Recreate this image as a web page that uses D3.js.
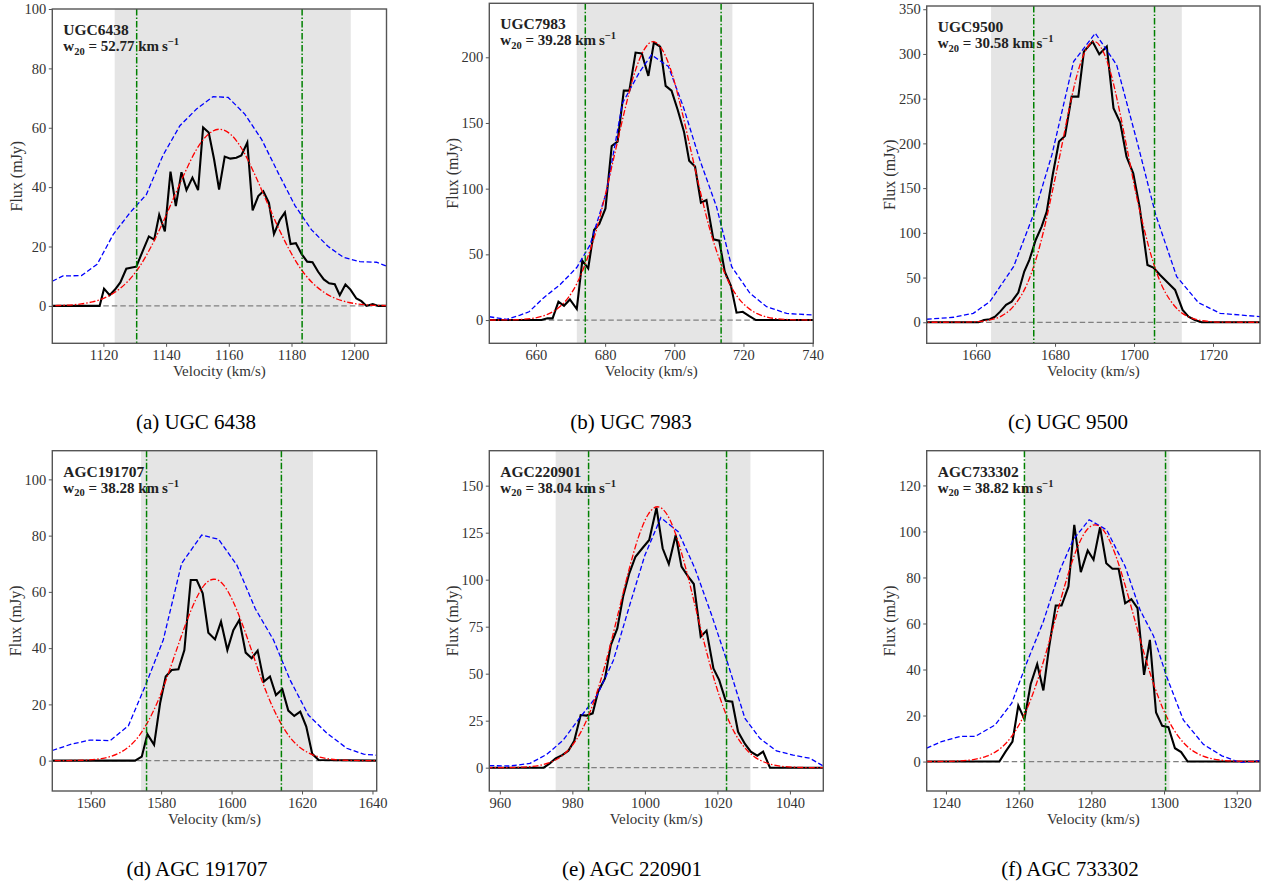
<!DOCTYPE html>
<html>
<head>
<meta charset="utf-8">
<script src="https://cdn.jsdelivr.net/npm/d3@7"></script>
<style>
  html, body { margin: 0; padding: 0; background: #ffffff; }
  svg { display: block; }
</style>
</head>
<body>
<script>
// ---------------------------------------------------------------
// HI line profiles of six dwarf galaxies.
// Each panel: observed spectrum (black), a lower-resolution
// spectrum (blue dashed), a Gaussian fit (red dash-dot), the
// W20 width limits (green dash-dot) and the masked window (grey).
// Spectra are [velocity (km/s), flux (mJy)] pairs.
// ---------------------------------------------------------------

const galaxyNames = ["UGC6438", "UGC7983", "UGC9500", "AGC191707", "AGC220901", "AGC733302"];
const captions = ["(a) UGC 6438", "(b) UGC 7983", "(c) UGC 9500", "(d) AGC 191707", "(e) AGC 220901", "(f) AGC 733302"];

// W20 line widths (km/s) and centre of the Gaussian fit (km/s)
const w20Values = [52.77, 39.28, 30.58, 38.28, 38.04, 38.82];
const fitCentres = [1157.0, 693.9, 1689.9, 1595.0, 1003.5, 1281.0];

// velocity window shaded in grey [min, max]
const windows = [[1123.6, 1198.9], [671.8, 716.8], [1663.8, 1712.1], [1574.3, 1623.1], [975.4, 1029.1], [1261.7, 1301.5]];

// axis limits
const xLimits = [[1103.7, 1210.3], [646.5, 740.2], [1647.5, 1731.9], [1549.1, 1641.2], [957.1, 1049.2], [1234.7, 1326.4]];
const yLimits = [[-12.6, 100.0], [-17.7, 241.1], [-23.5, 353.6], [-10.8, 110.2], [-12.4, 168.6], [-12.8, 135.1]];

// tick values
const xTickValues = [
  [1120, 1140, 1160, 1180, 1200],
  [660, 680, 700, 720, 740],
  [1660, 1680, 1700, 1720],
  [1560, 1580, 1600, 1620, 1640],
  [960, 980, 1000, 1020, 1040],
  [1240, 1260, 1280, 1300, 1320]
];
const yTickValues = [
  [0, 20, 40, 60, 80, 100],
  [0, 50, 100, 150, 200],
  [0, 50, 100, 150, 200, 250, 300, 350],
  [0, 20, 40, 60, 80, 100],
  [0, 25, 50, 75, 100, 125, 150],
  [0, 20, 40, 60, 80, 100, 120]
];

// ---- observed spectra (black) ----
const spectrumUGC6438 = [[1103.7,0],[1118.8,0],[1120.2,5.8],[1122.0,3.6],[1123.7,5.5],[1125.4,7.9],[1127.3,12.5],[1129.1,12.9],[1130.5,13.2],[1132.7,18.9],[1134.5,23.4],[1136.2,22.3],[1137.8,30.7],[1139.6,25.1],[1141.4,45.2],[1143.1,33.6],[1144.9,45.0],[1146.5,39.0],[1148.4,43.2],[1150.2,39.0],[1151.8,60.1],[1153.6,58.4],[1155.3,49.4],[1156.9,39.2],[1158.7,50.3],[1160.5,49.6],[1162.4,49.9],[1164.0,50.7],[1165.9,55.0],[1167.6,32.2],[1169.4,37.0],[1171.0,38.6],[1172.8,34.7],[1174.4,24.2],[1176.3,29.0],[1177.9,31.5],[1179.7,20.8],[1181.4,21.1],[1183.2,17.5],[1185.0,14.9],[1186.7,14.7],[1188.5,11.5],[1190.3,8.9],[1192.0,7.6],[1193.8,7.3],[1195.4,3.6],[1197.2,7.2],[1198.8,5.5],[1200.7,2.5],[1202.3,1.6],[1203.9,0],[1205.9,0.6],[1207.7,0],[1210.3,0]];
const spectrumUGC7983 = [[646.5,0],[661.6,0],[663.3,1.3],[664.8,1.3],[666.5,14.0],[668.1,10.9],[669.8,15.7],[671.8,8.4],[673.4,45.2],[675.1,39.3],[676.8,68.5],[678.3,73.1],[680.1,85.0],[681.9,132.5],[683.6,135.8],[685.4,174.6],[687.0,174.6],[688.8,203.6],[690.6,203.0],[692.5,185.8],[694.1,211.2],[695.9,208.1],[697.5,178.2],[699.2,174.6],[701.0,159.9],[702.8,143.4],[704.3,121.3],[706.0,116.8],[707.7,89.3],[709.3,91.4],[711.3,61.4],[713.0,60.4],[714.6,36.8],[716.4,25.9],[718.0,5.6],[719.8,6.3],[721.7,3.0],[723.6,0],[740.2,0]];
const spectrumUGC9500 = [[1647.5,0],[1660.6,0],[1662.0,2.6],[1663.5,3.4],[1664.8,6.3],[1666.1,11.9],[1667.6,19.4],[1669.0,23.1],[1670.7,33.2],[1672.2,56.7],[1673.5,69.7],[1675.1,92.0],[1676.6,107.0],[1677.9,123.7],[1679.4,164.7],[1681.0,202.0],[1682.5,208.3],[1684.2,252.3],[1685.9,252.3],[1687.3,302.6],[1689.5,313.8],[1691.2,299.7],[1693.1,308.2],[1694.8,239.3],[1696.5,223.3],[1698.1,185.2],[1699.8,166.6],[1701.4,129.3],[1703.4,64.1],[1704.9,61.1],[1706.6,52.9],[1708.5,44.4],[1710.4,36.2],[1712.3,13.8],[1713.8,6.3],[1715.4,2.6],[1717.1,0],[1731.9,0]];
const spectrumAGC191707 = [[1549.1,0],[1572.6,0],[1574.5,1.4],[1576.1,9.4],[1578.0,5.6],[1579.7,20.4],[1581.3,29.9],[1583.0,32.2],[1584.9,32.5],[1586.6,39.3],[1588.4,64.2],[1590.1,64.2],[1591.8,59.5],[1593.4,45.5],[1595.3,43.1],[1597.0,49.4],[1598.8,39.3],[1600.5,46.4],[1602.2,50.0],[1604.0,38.4],[1605.7,36.4],[1607.4,39.1],[1609.2,28.1],[1610.9,29.9],[1612.6,23.3],[1614.4,25.4],[1616.1,17.8],[1617.8,15.9],[1619.5,17.4],[1621.2,12.1],[1622.9,2.4],[1624.7,0.2],[1641.2,0]];
const spectrumAGC220901 = [[957.1,0],[972.1,0],[973.8,2.3],[975.4,5.0],[977.2,6.7],[978.9,9.0],[980.5,14.2],[982.3,28.0],[983.9,27.7],[985.6,28.9],[987.1,40.4],[989.0,47.5],[990.6,65.2],[992.4,74.1],[994.0,91.0],[995.7,103.4],[997.4,112.2],[999.3,116.7],[1001.2,121.1],[1003.2,138.3],[1004.9,116.7],[1006.6,108.3],[1008.5,123.8],[1010.1,106.9],[1011.8,102.0],[1013.5,97.7],[1015.4,69.7],[1017.0,72.9],[1018.9,52.8],[1020.5,46.6],[1022.3,35.6],[1024.1,35.1],[1025.7,19.1],[1027.6,12.6],[1029.2,8.5],[1031.0,6.4],[1032.6,8.5],[1034.5,0],[1049.2,0]];
const spectrumAGC733302 = [[1234.7,0],[1254.7,0],[1256.4,4.3],[1258.3,8.7],[1259.9,24.3],[1261.6,18.4],[1263.3,33.6],[1265.1,42.3],[1266.8,30.9],[1268.4,50.0],[1270.2,67.8],[1271.8,67.8],[1273.7,76.1],[1275.3,102.9],[1277.1,82.3],[1279.0,91.7],[1280.6,87.7],[1282.4,101.9],[1284.1,86.2],[1285.8,83.8],[1287.5,83.8],[1289.3,68.8],[1291.0,70.6],[1292.7,66.7],[1294.5,37.7],[1296.1,52.9],[1297.8,21.3],[1299.5,15.5],[1301.2,14.9],[1303.0,5.8],[1304.7,4.1],[1306.5,0],[1326.4,0]];

// ---- low-resolution spectra (blue dashed) ----
const lowresUGC6438 = [[1103.7,8.3],[1107.1,10.1],[1113.0,10.2],[1118.0,14.0],[1123.1,24.0],[1128.4,31.3],[1133.7,37.5],[1139.0,50.7],[1144.4,60.7],[1149.7,66.3],[1155.0,70.5],[1159.8,70.2],[1165.1,64.6],[1170.4,56.2],[1175.7,44.9],[1181.1,33.8],[1186.4,25.6],[1191.7,20.0],[1196.5,16.4],[1201.8,14.9],[1207.1,14.7],[1210.3,13.4]];
const lowresUGC7983 = [[646.5,2.5],[651.5,0.5],[655.4,3.8],[658.0,6.3],[662.0,16.5],[667.0,27.0],[671.8,40.0],[675.6,57.0],[680.4,97.7],[685.0,165.0],[690.0,189.0],[693.4,201.8],[698.3,193.0],[702.6,162.4],[707.4,121.8],[712.2,86.3],[716.6,40.6],[721.9,20.3],[726.7,10.2],[732.5,5.0],[740.2,3.8]];
const lowresUGC9500 = [[1647.5,3.4],[1654.3,5.6],[1659.3,10.0],[1663.5,23.1],[1669.5,62.2],[1675.0,125.6],[1679.2,187.1],[1684.7,291.5],[1690.2,323.1],[1695.6,287.7],[1701.1,196.4],[1705.5,120.0],[1710.8,51.1],[1716.3,22.0],[1721.8,10.0],[1731.9,6.3]];
const lowresAGC191707 = [[1549.1,3.6],[1554.6,5.9],[1559.8,7.3],[1565.5,7.1],[1570.7,12.4],[1575.4,26.3],[1580.6,42.9],[1585.8,70.1],[1591.5,80.2],[1596.3,78.7],[1601.5,69.5],[1606.7,54.1],[1611.9,42.9],[1616.6,28.7],[1621.8,16.2],[1627.1,9.7],[1632.7,4.4],[1637.5,2.3],[1641.2,1.9]];
const lowresAGC220901 = [[957.1,1.1],[962.8,0.9],[968.3,2.3],[972.9,7.0],[977.5,14.7],[981.6,25.4],[986.7,38.0],[991.3,57.0],[995.9,87.0],[1000.0,113.0],[1004.4,133.0],[1009.2,125.5],[1013.8,106.0],[1018.4,81.2],[1023.0,54.6],[1027.6,26.2],[1031.7,15.6],[1036.3,8.9],[1040.9,6.7],[1045.5,5.0],[1049.2,0.9]];
const lowresAGC733302 = [[1234.7,5.8],[1238.8,8.7],[1243.9,10.9],[1248.0,10.9],[1253.5,15.9],[1258.1,25.4],[1262.2,42.8],[1266.8,60.9],[1271.4,83.3],[1275.0,96.4],[1279.4,105.1],[1284.2,100.7],[1289.3,84.8],[1293.4,65.9],[1297.1,54.6],[1300.7,37.0],[1305.3,18.1],[1310.8,7.5],[1315.9,2.5],[1320.9,-0.4],[1326.4,0.4]];

// ---- Gaussian fits (red dash-dot) ----
const fitUGC6438 = [[1090,0],[1098.2,0.02],[1105.5,0.13],[1112.9,0.66],[1116.5,1.36],[1120.2,2.61],[1123.9,4.74],[1127.6,8.05],[1131.3,12.87],[1134.9,19.32],[1138.6,27.24],[1142.3,36.09],[1146.0,44.91],[1149.6,52.51],[1153.3,57.67],[1157.0,59.5],[1160.7,57.67],[1164.4,52.51],[1168.0,44.91],[1171.7,36.09],[1175.4,27.24],[1179.1,19.32],[1182.7,12.87],[1186.4,8.05],[1190.1,4.74],[1193.8,2.61],[1197.5,1.36],[1201.1,0.66],[1208.5,0.13],[1215.8,0.02],[1225,0]];
const fitUGC7983 = [[640,0],[650.1,0.06],[655.6,0.47],[661.05,2.35],[663.8,4.83],[666.5,9.31],[669.3,16.88],[672.0,28.68],[674.7,45.86],[677.5,68.84],[680.2,97.05],[682.95,128.58],[685.7,160.02],[688.4,187.09],[691.2,205.47],[693.9,212.0],[696.6,205.47],[699.4,187.09],[702.1,160.02],[704.85,128.58],[707.6,97.05],[710.3,68.84],[713.1,45.86],[715.8,28.68],[718.5,16.88],[721.3,9.31],[724.0,4.83],[726.75,2.35],[732.2,0.47],[737.7,0.06],[745,0]];
const fitUGC9500 = [[1640,0],[1655.8,0.09],[1660.1,0.69],[1664.3,3.49],[1666.5,7.16],[1668.6,13.78],[1670.7,24.99],[1672.9,42.48],[1675.0,67.92],[1677.1,101.96],[1679.2,143.75],[1681.4,190.44],[1683.5,237.01],[1685.6,277.11],[1687.8,304.33],[1689.9,314.0],[1692.0,304.33],[1694.2,277.11],[1696.3,237.01],[1698.4,190.44],[1700.5,143.75],[1702.7,101.96],[1704.8,67.92],[1706.9,42.48],[1709.1,24.99],[1711.2,13.78],[1713.3,7.16],[1715.5,3.49],[1719.7,0.69],[1724.0,0.09],[1740,0]];
const fitAGC191707 = [[1540,0],[1552.3,0.02],[1557.65,0.14],[1563.0,0.72],[1565.7,1.47],[1568.3,2.83],[1571.0,5.13],[1573.7,8.73],[1576.3,13.95],[1579.0,20.94],[1581.65,29.53],[1584.3,39.12],[1587.0,48.68],[1589.7,56.92],[1592.3,62.51],[1595.0,64.5],[1597.7,62.51],[1600.3,56.92],[1603.0,48.68],[1605.7,39.12],[1608.3,29.53],[1611.0,20.94],[1613.7,13.95],[1616.3,8.73],[1619.0,5.13],[1621.7,2.83],[1624.3,1.47],[1627.0,0.72],[1632.35,0.14],[1637.7,0.02],[1650,0]];
const fitAGC220901 = [[950,0],[961.1,0.04],[966.4,0.31],[971.7,1.54],[974.35,3.16],[977.0,6.09],[979.65,11.05],[982.3,18.78],[984.95,30.02],[987.6,45.07],[990.25,63.54],[992.9,84.18],[995.55,104.77],[998.2,122.49],[1000.85,134.52],[1003.5,138.8],[1006.15,134.52],[1008.8,122.49],[1011.45,104.77],[1014.1,84.18],[1016.75,63.54],[1019.4,45.07],[1022.05,30.02],[1024.7,18.78],[1027.35,11.05],[1030.0,6.09],[1032.65,3.16],[1035.3,1.54],[1040.6,0.31],[1045.9,0.04],[1055,0]];
const fitAGC733302 = [[1225,0],[1237.7,0.03],[1243.1,0.23],[1248.5,1.14],[1251.2,2.35],[1253.95,4.52],[1256.65,8.19],[1259.35,13.92],[1262.1,22.26],[1264.8,33.41],[1267.5,47.11],[1270.2,62.41],[1272.9,77.67],[1275.6,90.81],[1278.3,99.73],[1281.0,102.9],[1283.7,99.73],[1286.4,90.81],[1289.1,77.67],[1291.8,62.41],[1294.5,47.11],[1297.2,33.41],[1299.9,22.26],[1302.65,13.92],[1305.35,8.19],[1308.05,4.52],[1310.75,2.35],[1313.5,1.14],[1318.9,0.23],[1324.3,0.03],[1335,0]];

const spectra = [spectrumUGC6438, spectrumUGC7983, spectrumUGC9500, spectrumAGC191707, spectrumAGC220901, spectrumAGC733302];
const lowres = [lowresUGC6438, lowresUGC7983, lowresUGC9500, lowresAGC191707, lowresAGC220901, lowresAGC733302];
const fits = [fitUGC6438, fitUGC7983, fitUGC9500, fitAGC191707, fitAGC220901, fitAGC733302];

// ---- page layout (pixel boxes of each axes frame) ----
const frames = [
  { left: 52.3,  right: 386.5, top: 9.0,   bottom: 343.3, ylabX: 16,  capX: 196,  capY: 429 },
  { left: 489.3, right: 813.3, top: 3.3,   bottom: 343.3, ylabX: 452, capX: 631,  capY: 429 },
  { left: 926.7, right: 1260,  top: 6.0,   bottom: 343.3, ylabX: 889, capX: 1068, capY: 429 },
  { left: 52.3,  right: 376.7, top: 450.7, bottom: 791,   ylabX: 15,  capX: 197,  capY: 876 },
  { left: 489.3, right: 823.3, top: 450.7, bottom: 791,   ylabX: 452, capX: 632,  capY: 876 },
  { left: 926.7, right: 1260,  top: 450.7, bottom: 791,   ylabX: 889, capX: 1070, capY: 876 }
];

const axisFont = "'Liberation Serif', 'Times New Roman', serif";
const frameColor = "#555555";
const textColor = "#333333";

const svg = d3.select("body").append("svg")
  .attr("width", 1268).attr("height", 883)
  .attr("viewBox", "0 0 1268 883");

svg.append("rect").attr("width", 1268).attr("height", 883).attr("fill", "#ffffff");

frames.forEach((f, i) => {
  const g = svg.append("g");
  const x = d3.scaleLinear().domain(xLimits[i]).range([f.left, f.right]);
  const y = d3.scaleLinear().domain(yLimits[i]).range([f.bottom, f.top]);

  const clipId = "clip" + i;
  g.append("clipPath").attr("id", clipId)
    .append("rect")
    .attr("x", f.left).attr("y", f.top)
    .attr("width", f.right - f.left).attr("height", f.bottom - f.top);

  const plot = g.append("g").attr("clip-path", `url(#${clipId})`);

  // shaded velocity window
  plot.append("rect")
    .attr("x", x(windows[i][0]))
    .attr("y", f.top)
    .attr("width", x(windows[i][1]) - x(windows[i][0]))
    .attr("height", f.bottom - f.top)
    .attr("fill", "#e5e5e5");

  // zero-flux reference line
  plot.append("line")
    .attr("x1", x(xLimits[i][0])).attr("x2", x(xLimits[i][1]))
    .attr("y1", y(0)).attr("y2", y(0))
    .attr("stroke", "#808080").attr("stroke-width", 1.3)
    .attr("stroke-dasharray", "5.5,3");

  const line = d3.line().x(d => x(d[0])).y(d => y(d[1]));
  const smooth = d3.line().x(d => x(d[0])).y(d => y(d[1])).curve(d3.curveMonotoneX);

  // observed spectrum
  plot.append("path").datum(spectra[i])
    .attr("d", line)
    .attr("fill", "none").attr("stroke", "#000000")
    .attr("stroke-width", 2.1).attr("stroke-linejoin", "miter");

  // low-resolution spectrum
  plot.append("path").datum(lowres[i])
    .attr("d", line)
    .attr("fill", "none").attr("stroke", "#0000ff")
    .attr("stroke-width", 1.3).attr("stroke-dasharray", "5,2.5");

  // Gaussian fit
  plot.append("path").datum(fits[i])
    .attr("d", smooth)
    .attr("fill", "none").attr("stroke", "#ff0000")
    .attr("stroke-width", 1.3).attr("stroke-dasharray", "6,2,1.5,2");

  // W20 limits around the fit centre
  const limits = [fitCentres[i] - w20Values[i] / 2, fitCentres[i] + w20Values[i] / 2];
  plot.selectAll("line.w20").data(limits).enter().append("line")
    .attr("class", "w20")
    .attr("x1", d => x(d)).attr("x2", d => x(d))
    .attr("y1", f.top).attr("y2", f.bottom)
    .attr("stroke", "#008000").attr("stroke-width", 1.5)
    .attr("stroke-dasharray", "6.5,2,1.5,2");

  // axes
  const xAxis = d3.axisBottom(x).tickValues(xTickValues[i]).tickSize(3.5).tickPadding(3)
    .tickFormat(d3.format("d"));
  const yAxis = d3.axisLeft(y).tickValues(yTickValues[i]).tickSize(3.5).tickPadding(2.5)
    .tickFormat(d3.format("d"));

  const gx = g.append("g").attr("transform", `translate(0,${f.bottom})`).call(xAxis);
  const gy = g.append("g").attr("transform", `translate(${f.left},0)`).call(yAxis);
  [gx, gy].forEach(a => {
    a.select(".domain").remove();
    a.selectAll(".tick line").attr("stroke", frameColor).attr("stroke-width", 1);
    a.selectAll(".tick text")
      .attr("fill", textColor)
      .style("font-family", axisFont)
      .style("font-size", "14.5px");
  });

  // frame
  g.append("rect")
    .attr("x", f.left).attr("y", f.top)
    .attr("width", f.right - f.left).attr("height", f.bottom - f.top)
    .attr("fill", "none").attr("stroke", frameColor).attr("stroke-width", 1.4);

  // axis labels
  g.append("text")
    .attr("x", (f.left + f.right) / 2).attr("y", f.bottom + 33)
    .attr("text-anchor", "middle")
    .attr("fill", textColor)
    .style("font-family", axisFont).style("font-size", "15px")
    .text("Velocity (km/s)");

  g.append("text")
    .attr("transform", `translate(${f.ylabX + 5.5},${(f.top + f.bottom) / 2}) rotate(-90)`)
    .attr("text-anchor", "middle")
    .attr("fill", textColor)
    .style("font-family", axisFont).style("font-size", "16px")
    .text("Flux (mJy)");

  // galaxy name and W20 annotation
  const ann = g.append("g")
    .style("font-family", axisFont).style("font-weight", "bold")
    .attr("fill", "#222222");
  ann.append("text")
    .attr("x", f.left + 11).attr("y", f.top + 26)
    .style("font-size", "15.5px")
    .text(galaxyNames[i]);
  const wt = ann.append("text")
    .attr("x", f.left + 11).attr("y", f.top + 42)
    .style("font-size", "15px");
  wt.append("tspan").text("w");
  wt.append("tspan").attr("dy", 3.5).style("font-size", "10.5px").text("20");
  wt.append("tspan").attr("dy", -3.5).text(" = " + w20Values[i].toFixed(2) + " km\u2009s");
  wt.append("tspan").attr("dy", -6).style("font-size", "10.5px").text("\u22121");

  // sub-figure caption
  g.append("text")
    .attr("x", f.capX).attr("y", f.capY)
    .attr("text-anchor", "middle")
    .attr("fill", "#000000")
    .style("font-family", axisFont).style("font-size", "21px")
    .text(captions[i]);
});
</script>
</body>
</html>
